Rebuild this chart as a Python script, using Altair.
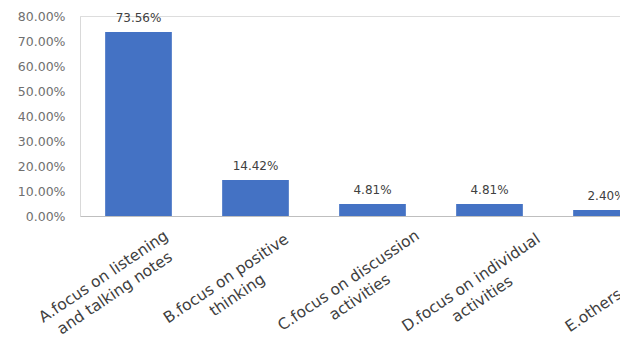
import altair as alt
import pandas as pd

categories = [
    "A.focus on listening|and talking notes",
    "B.focus on positive|thinking",
    "C.focus on discussion|activities",
    "D.focus on individual|activities",
    "E.others",
]
shares = [0.7356, 0.1442, 0.0481, 0.0481, 0.0240]

df = pd.DataFrame({"category": categories, "share": shares})

x = alt.X(
    "category:N",
    sort=categories,
    scale=alt.Scale(range=[0, 585], paddingInner=0.43, paddingOuter=0.215),
    axis=alt.Axis(
        title=None,
        labelAngle=-34,
        labelAlign="center",
        labelBaseline="middle",
        labelExpr="split(datum.label, '|')",
        labelOffset={"expr": "-35 + 22*datum.index"},
        labelPadding={"expr": "indexof(datum.value, '|') >= 0 ? 60 + 8*datum.index : 94"},
        labelLineHeight=20,
        labelFont="DejaVu Sans",
        labelFontSize=15.5,
        labelColor="#404040",
        labelLimit=400,
        labelOverlap=False,
        labelBound=False,
        labelFlush=False,
        ticks=False,
        tickSize=0,
        domainColor="#bfbfbf",
        domainWidth=1,
    ),
)

y = alt.Y(
    "share:Q",
    scale=alt.Scale(domain=[0, 0.8], nice=False),
    axis=alt.Axis(
        title=None,
        values=[0, 0.1, 0.2, 0.3, 0.4, 0.5, 0.6, 0.7, 0.8],
        format=".2%",
        grid=False,
        ticks=False,
        labelPadding=15,
        labelFont="DejaVu Sans",
        labelFontSize=12.5,
        labelColor="#6f6f6f",
        domainColor="#d9d9d9",
        domainWidth=1,
    ),
)

base = alt.Chart(df)

bars = base.mark_bar(color="#4472C4").encode(x=x, y=y)

labels = base.mark_text(
    dy=-14,
    baseline="middle",
    font="DejaVu Sans",
    fontSize=12,
    color="#404040",
).encode(x=x, y=y, text=alt.Text("share:Q", format=".2%"))

chart = (
    alt.layer(bars, labels)
    .properties(
        width=540,
        height=200,
        padding={"left": 80, "top": 16, "right": 0, "bottom": 128},
        autosize=alt.AutoSizeParams(type="none"),
    )
    .configure_view(stroke=None)
    .configure(background="white")
)

chart.save("out.html", embed_options={"renderer": "svg", "actions": False})
